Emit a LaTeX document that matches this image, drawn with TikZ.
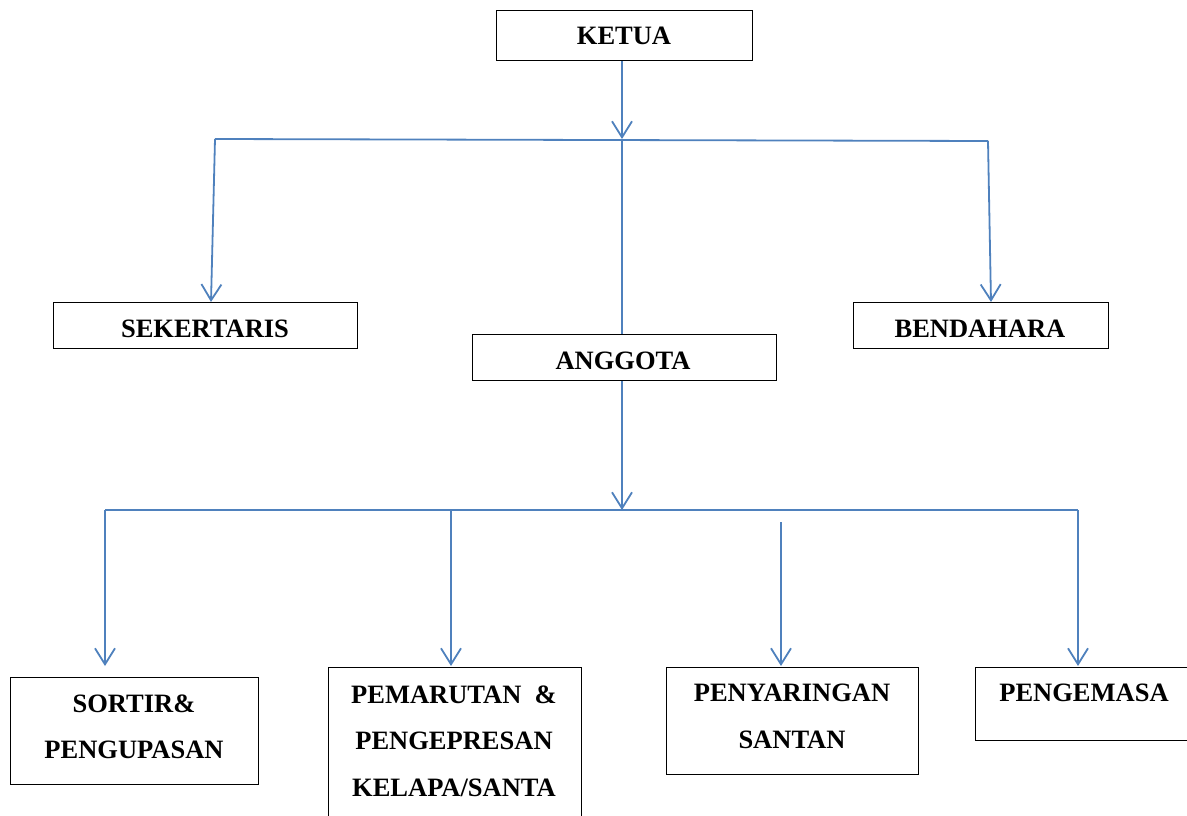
\documentclass[tikz,border=0pt]{standalone}
\usepackage{fontspec}
\setmainfont{Liberation Serif}
\usetikzlibrary{arrows.meta}
\definecolor{lineblue}{HTML}{4F81BD}
\begin{document}
\begin{tikzpicture}[x=1pt,y=-1pt,
  box/.style={draw=black,line width=1.2pt,inner sep=0pt,anchor=north west},
  txt/.style={inner sep=0pt,font=\fontsize{26.5}{46.5}\selectfont\bfseries,align=center},
  conn/.style={draw=lineblue,line width=1.8pt},
  arr/.style={conn,-{Straight Barb[length=16pt,width=20pt,line width=1.8pt]}}]
\useasboundingbox (0,0) rectangle (1187,816);
% boxes
\node[box,minimum width=256pt,minimum height=50pt] (ketua) at (496,10) {};
\node[txt] at (624,36) {KETUA};
\node[box,minimum width=304pt,minimum height=46pt] (sek) at (53,302) {};
\node[txt] at (205,329) {SEKERTARIS};
\node[box,minimum width=304pt,minimum height=46pt] (angg) at (472,334) {};
\node[txt] at (623,361) {ANGGOTA};
\node[box,minimum width=255pt,minimum height=46pt] (bend) at (853,302) {};
\node[txt] at (980,329) {BENDAHARA};
\node[box,minimum width=248pt,minimum height=107pt] (sortir) at (10,677) {};
\node[txt,anchor=north] at (134,694.2) {SORTIR\&\\PENGUPASAN};
\node[box,minimum width=253pt,minimum height=160pt] (pemar) at (328,667) {};
\node[txt,anchor=north] at (454,685.2) {PEMARUTAN \ \&\\PENGEPRESAN\\KELAPA/SANTA};
\node[box,minimum width=252pt,minimum height=107pt] (peny) at (666,667) {};
\node[txt,anchor=north] at (792,684.2) {PENYARINGAN\\SANTAN};
\node[box,minimum width=220pt,minimum height=73pt] (peng) at (975,667) {};
\node[txt] at (1084,693) {PENGEMASA};
% top connectors
\coordinate (j1) at (622,139);
\coordinate (l1) at (215,139);
\coordinate (r1) at (988,141);
\draw[arr] (ketua.south -| j1) -- (j1);
\draw[conn] (j1) -- (j1 |- angg.north);
\draw[conn] (l1) -- (r1);
\draw[arr] (l1) -- ([xshift=-4pt]l1 |- sek.north);
\draw[arr] (r1) -- ([xshift=3pt]r1 |- bend.north);
% bottom connectors
\coordinate (j2) at (622,510);
\coordinate (b1) at (105,510);
\coordinate (b2) at (451,510);
\coordinate (b3) at (781,522);
\coordinate (b4) at (1078,510);
\draw[arr] (angg.south -| j2) -- (j2);
\draw[conn] (b1) -- (b4);
\draw[arr,shorten >=11pt] (b1) -- (b1 |- sortir.north);
\draw[arr,shorten >=1pt] (b2) -- (b2 |- pemar.north);
\draw[arr,shorten >=1pt] (b3) -- (b3 |- peny.north);
\draw[arr,shorten >=1pt] (b4) -- (b4 |- peng.north);
\end{tikzpicture}
\end{document}
